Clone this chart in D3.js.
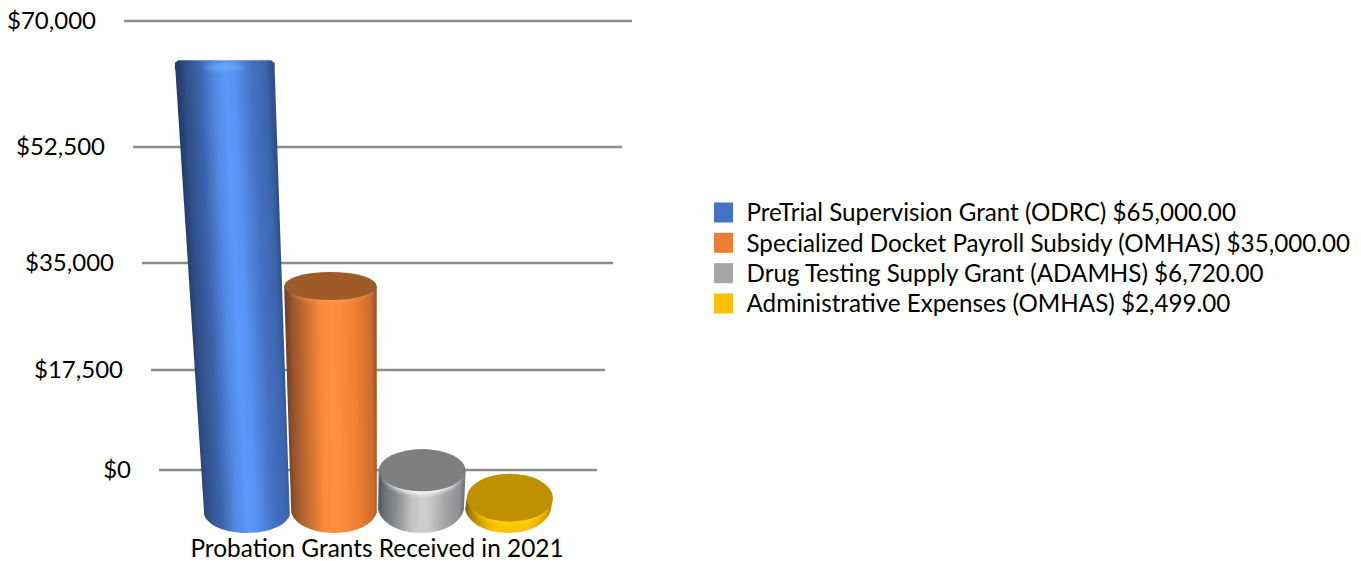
<!DOCTYPE html>
<html><head><meta charset="utf-8">
<script src="https://cdn.jsdelivr.net/npm/d3@7/dist/d3.min.js"></script>
<style>html,body{margin:0;padding:0;background:#fff}svg{display:block}text{font-family:Lato,"Open Sans",sans-serif;fill:#000}</style>
</head><body><svg id="c" width="1361" height="561"></svg>
<script>
const categories=["PreTrial Supervision Grant (ODRC)","Specialized Docket Payroll Subsidy (OMHAS)","Drug Testing Supply Grant (ADAMHS)","Administrative Expenses (OMHAS)"];
const values=[65000,35000,6720,2499];
const colors=["#4472c4","#ed7d31","#a5a5a5","#ffc000"];
const capColors=["#4a76c4","#9e5a28","#7f7f7f","#bf9000"];
const hiColors=["#5c98fa","#ff8f42","#cfcfcf","#f6c400"];
const tickValues=[0,17500,35000,52500,70000];
const axisTitle="Probation Grants Received in 2021";

const svg=d3.select("#c"), defs=svg.append("defs");
const fmtTick=d3.format("$,.0f"), fmtVal=d3.format("$,.2f");
// wall (perspective) scales
const yWall=d3.scaleLinear().domain(tickValues).range([470,370,263,147,21]);
const xWallL=d3.scaleLinear().domain(tickValues).range([159,151,142,133,124]);
const xWallR=d3.scaleLinear().domain(tickValues).range([597,605,613,622,632]);
// front plane scales
const yBar=d3.scaleLinear().domain([0,35000,70000]).range([514,286,25]);
const xBase=d3.scalePoint().domain(d3.range(categories.length)).range([247,508]);
const baseY=533, vx=372;
const widthAt=y=>85+(baseY-y)*0.031;
const ryAt=d3.scaleLinear().domain([62,286,469,498]).range([3,14,21,24]).clamp(true);
const baseRy=d3.scaleLinear().domain([247,421]).range([18,23]).clamp(true);
const cxAt=(i,y)=>xBase(i)+(xBase(i)-vx)*(baseY-y)*0.00038;

// gridlines
svg.append("g").selectAll("line").data(tickValues).join("line")
 .attr("x1",xWallL).attr("x2",xWallR).attr("y1",yWall).attr("y2",yWall)
 .attr("stroke","#8c8c8c").attr("stroke-width",2.6);

// axis
const axis=svg.append("g").call(d3.axisLeft(yWall).tickValues(tickValues).tickFormat(fmtTick).tickSize(0));
axis.select(".domain").remove();
axis.selectAll(".tick text").attr("x",d=>xWallL(d)-28).attr("dy","0.33em")
 .style("font-family",'Lato,"Open Sans",sans-serif').style("font-size","24px").attr("fill","#000");

const shade=(c,k)=>d3.interpolateRgb(c,"#0c1626")(k);
defs.append("filter").attr("id","soft").attr("x","-30%").attr("y","-80%").attr("width","160%").attr("height","260%")
 .append("feGaussianBlur").attr("stdDeviation",2.2);

// cylinders
const bars=svg.append("g").selectAll("g").data(values).join("g");
bars.each(function(v,i){
 const g=d3.select(this), yT=yBar(v), cT=cxAt(i,yT), wT=widthAt(yT), ryT=ryAt(yT);
 const ryB=baseRy(xBase(i)), yB=baseY-ryB, cB=xBase(i), wB=widthAt(yB);
 // shading follows the tilt of the cylinder's axis
 const wM=(wT+wB)/2, tilt=Math.atan2(cB-cT,yB-yT)*180/Math.PI;
 const c=colors[i], grad=defs.append("linearGradient").attr("id","side"+i)
  .attr("gradientUnits","userSpaceOnUse").attr("x1",cB-wM/2).attr("x2",cB+wM/2).attr("y1",yB).attr("y2",yB)
  .attr("gradientTransform",`translate(${cB},${yB}) skewX(${tilt}) translate(${-cB},${-yB})`);
 const hi=d3.interpolateRgb(c,hiColors[i]);
 [[0,shade(c,.55)],[.07,shade(c,.38)],[.22,shade(c,.16)],[.38,hi(.6)],[.5,hi(1)],[.6,hi(.85)],[.78,c],[.94,shade(c,.15)],[1,shade(c,.36)]]
  .forEach(s=>grad.append("stop").attr("offset",s[0]).attr("stop-color",s[1]));
 const p=d3.path();
 p.moveTo(cT-wT/2,yT);
 p.lineTo(cB-wB/2,yB);
 p.bezierCurveTo(cB-wB/2+wB*0.1,yB+ryB*1.33,cB+wB/2-wB*0.1,yB+ryB*1.33,cB+wB/2,yB);
 p.lineTo(cT+wT/2,yT);
 p.closePath();
 g.append("path").attr("d",p.toString()).attr("fill",`url(#side${i})`);
 if(i===0){
  // flat, rounded top seen nearly edge-on, with a soft highlight
  g.append("rect").attr("x",cT-wT/2).attr("y",yT-2).attr("width",wT).attr("height",12).attr("rx",5)
   .attr("fill",`url(#side${i})`);
  g.append("ellipse").attr("cx",cT).attr("cy",yT+5).attr("rx",20).attr("ry",3)
   .attr("fill","#79b0ff").attr("opacity",.6).attr("filter","url(#soft)");
 } else {
  // light bevel below the cap's front edge
  g.append("ellipse").attr("cx",cT).attr("cy",yT+3).attr("rx",wT/2-4).attr("ry",ryT)
   .attr("fill",i===1?"#ffa060":i===2?"#fff":"#ffd400").attr("opacity",i===1?.35:.9).attr("filter","url(#soft)");
  g.append("ellipse").attr("cx",cT).attr("cy",yT).attr("rx",wT/2).attr("ry",ryT).attr("fill",capColors[i]);
 }
});

// category-axis title
svg.append("text").attr("x",377).attr("y",557).attr("text-anchor","middle").attr("font-size",24.4).text(axisTitle);

// legend
const yLeg=d3.scalePoint().domain(d3.range(categories.length)).range([212.5,303.5]);
const leg=svg.append("g").selectAll("g").data(categories).join("g");
leg.append("rect").attr("x",714).attr("width",19).attr("height",20)
 .attr("y",(d,i)=>yLeg(i)-10).attr("fill",(d,i)=>colors[i]);
leg.append("text").attr("x",746.5).attr("y",(d,i)=>yLeg(i)).attr("dy","0.36em").attr("font-size",24.2)
 .text((d,i)=>`${d} ${fmtVal(values[i])}`);
</script></body></html>
